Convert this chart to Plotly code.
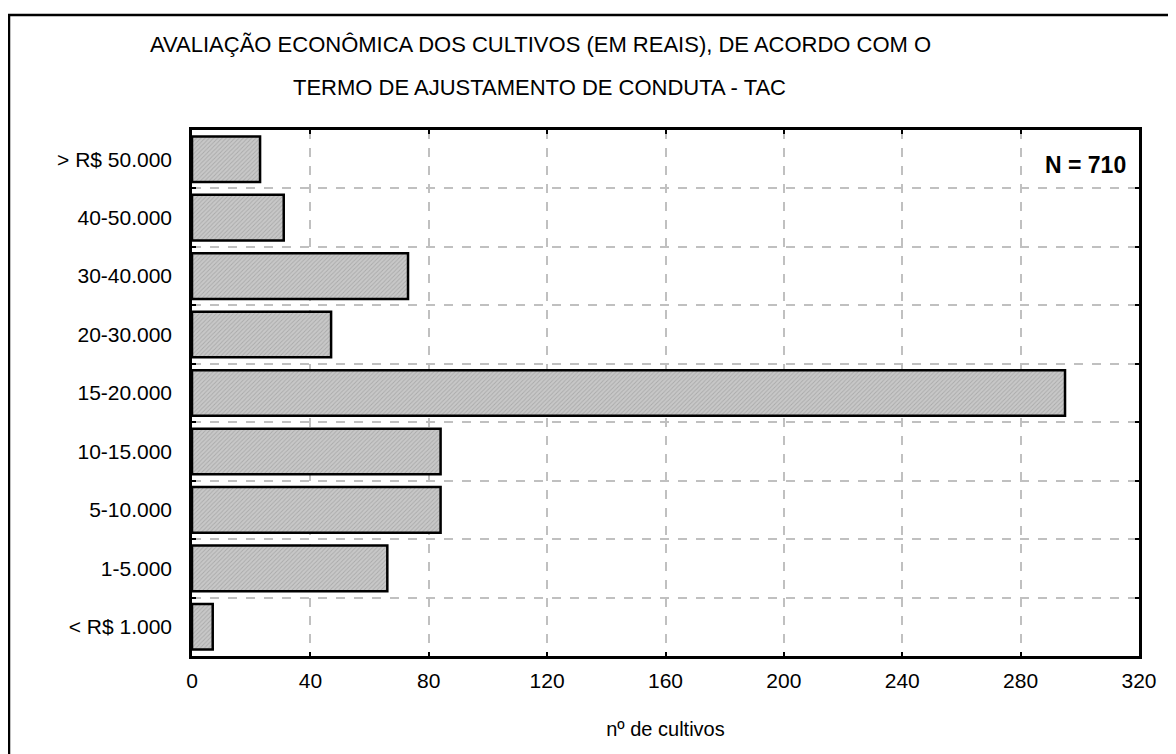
import plotly.graph_objects as go

# faixas de valor (de baixo para cima) e número de cultivos
faixas = ["< R$ 1.000", "1-5.000", "5-10.000", "10-15.000", "15-20.000",
          "20-30.000", "30-40.000", "40-50.000", "> R$ 50.000"]
cultivos = [7, 66, 84, 84, 295, 47, 73, 31, 23]
x_ticks = [0, 40, 80, 120, 160, 200, 240, 280, 320]

FONT = "Liberation Sans, Arial, sans-serif"
W, H = 1176, 754
OFF = 8  # page body margin
L, R, T, B = 184, 45, 122, 106
pw, ph = W - L - R, H - T - B


def px_x(x):
    return (x - OFF - L) / pw


def px_y(y):
    return (H - B - (y - OFF)) / ph


fig = go.Figure(go.Bar(
    x=cultivos,
    y=faixas,
    orientation='h',
    marker=dict(
        color='#c4c4c4',
        line=dict(color='black', width=2.5),
        pattern=dict(shape='/', fgcolor='#8c8c8c', bgcolor='#c8c8c8',
                     size=3, solidity=0.3)
    ),
    hovertemplate='%{y}: %{x}<extra></extra>'
))

fig.update_layout(
    width=W,
    height=H,
    margin=dict(l=L, r=R, t=T, b=B),
    plot_bgcolor='white',
    paper_bgcolor='white',
    font=dict(family=FONT, color='black'),
    bargap=0.22,
    showlegend=False,
    xaxis=dict(
        range=[0, 320],
        tickvals=x_ticks,
        ticks='inside',
        ticklen=4,
        tickwidth=2,
        tickcolor='black',
        tickfont=dict(size=21),
        ticklabelstandoff=4,
        showline=True,
        linecolor='black',
        linewidth=2.5,
        mirror='ticks',
        showgrid=True,
        gridcolor='#c0c0c0',
        gridwidth=1.5,
        griddash='dash',
        zeroline=False,
        title=dict(text='nº de cultivos', font=dict(size=20), standoff=32),
    ),
    yaxis=dict(
        type='category',
        categoryorder='array',
        categoryarray=faixas,
        tickson='boundaries',
        ticks='inside',
        ticklen=4,
        tickwidth=2,
        tickcolor='black',
        tickfont=dict(size=21),
        ticklabelstandoff=13,
        showline=True,
        linecolor='black',
        linewidth=2.5,
        mirror='ticks',
        showgrid=True,
        gridcolor='#c0c0c0',
        gridwidth=1.5,
        griddash='dash',
        zeroline=False,
    ),
    shapes=[dict(
        type='rect', xref='paper', yref='paper',
        x0=px_x(9), x1=px_x(W + 30), y0=px_y(H + 30), y1=px_y(15),
        line=dict(color='black', width=2.5), fillcolor='rgba(0,0,0,0)',
        layer='above'
    )],
    annotations=[
        dict(text='AVALIAÇÃO ECONÔMICA DOS CULTIVOS (EM REAIS), DE ACORDO COM O',
             xref='paper', yref='paper', x=px_x(540), y=px_y(45),
             xanchor='center', yanchor='middle', showarrow=False,
             font=dict(size=22)),
        dict(text='TERMO DE AJUSTAMENTO DE CONDUTA - TAC',
             xref='paper', yref='paper', x=px_x(539), y=px_y(87),
             xanchor='center', yanchor='middle', showarrow=False,
             font=dict(size=22)),
        dict(text='<b>N = 710</b>',
             xref='paper', yref='paper', x=px_x(1128), y=px_y(165),
             xanchor='right', yanchor='middle', showarrow=False,
             font=dict(size=23)),
    ],
)

fig.write_html("out.html")
